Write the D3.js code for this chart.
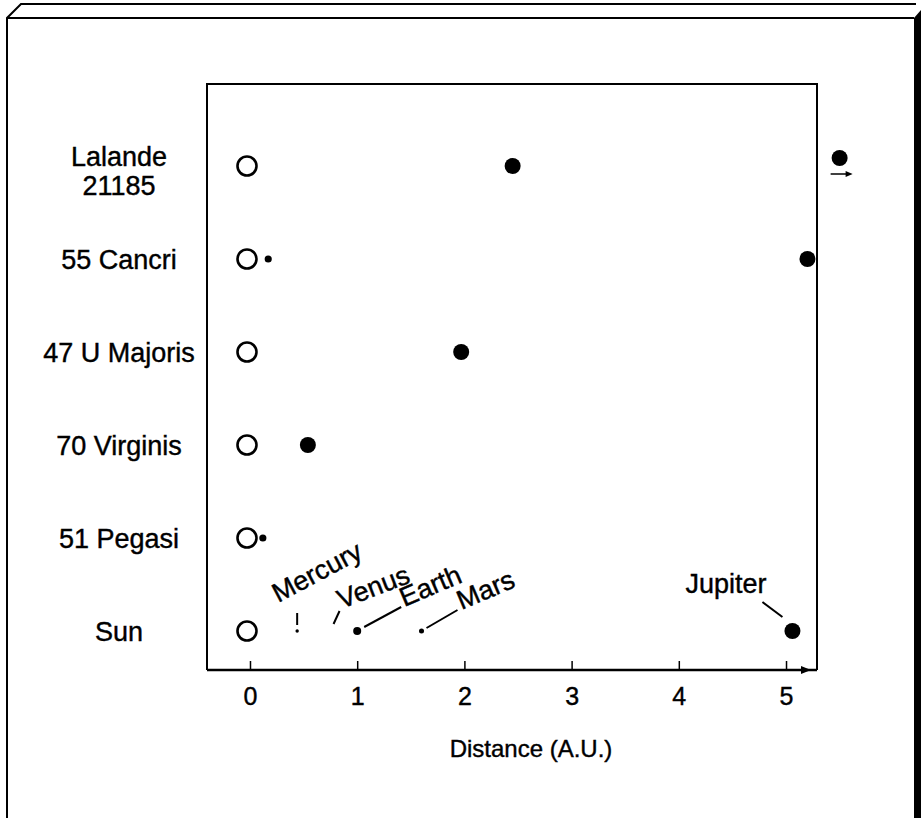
<!DOCTYPE html>
<html>
<head>
<meta charset="utf-8">
<script src="https://cdn.jsdelivr.net/npm/d3@7"></script>
<style>
  body { margin: 0; background: white; }
  svg { display: block; font-family: "Liberation Sans", Arial, Helvetica, sans-serif; }
  svg text { stroke: black; stroke-width: 0.4px; }
</style>
</head>
<body>
<script>
// stars, top to bottom
const stars = ["Lalande 21185", "55 Cancri", "47 U Majoris", "70 Virginis", "51 Pegasi", "Sun"];

// planets (distance, size = relative dot size)
const planetHost = ["Lalande 21185", "Lalande 21185", "55 Cancri", "55 Cancri", "47 U Majoris",
    "70 Virginis", "51 Pegasi", "Sun", "Sun", "Sun", "Sun", "Sun"];
const planetName = ["", "", "", "", "", "", "", "Mercury", "Venus", "Earth", "Mars", "Jupiter"];
const planetAU = [2.45, 5.5, 0.17, 5.2, 1.97, 0.54, 0.12, 0.44, 0.77, 1.0, 1.6, 5.06];
const planetSize = [1, 1, 0.2, 1, 1, 1, 0.2, 0.045, 0, 0.25, 0.1, 1];

const xTicks = [0, 1, 2, 3, 4, 5];
const xLabel = "Distance (A.U.)";

const W = 921, H = 818;
const plot = { left: 207, right: 817, top: 84, bottom: 670 };

const svg = d3.select("body").append("svg")
    .attr("width", W)
    .attr("height", H);

// outer frame (box look)
svg.append("path")
    .attr("d", "M7,818 L7,18 L21,4 L916,4 M7,18 L914,18")
    .attr("fill", "none")
    .attr("stroke", "black")
    .attr("stroke-width", 2);
svg.append("path")
    .attr("d", "M914,18 L921,10 L921,818 L914,818 Z")
    .attr("fill", "black");

let x = d3.scaleLinear()
    .domain([-0.401, 5.289])
    .range([plot.left, plot.right]);

let y = d3.scalePoint()
    .domain(stars)
    .range([166, 631]);

let rScale = d3.scaleSqrt()
    .domain([0, 1])
    .range([0, 8]);

// plot box: left, top, right
svg.append("path")
    .attr("d", `M${plot.left},${plot.bottom} L${plot.left},${plot.top} L${plot.right},${plot.top} L${plot.right},${plot.bottom}`)
    .attr("fill", "none")
    .attr("stroke", "black")
    .attr("stroke-width", 2);

// x axis, ticks pointing up
let axisX = d3.axisBottom(x)
    .tickValues(xTicks)
    .tickFormat(d3.format("d"))
    .tickSize(-9)
    .tickSizeOuter(0)
    .tickPadding(17);

let gAxis = svg.append("g")
    .attr("transform", `translate(0, ${plot.bottom})`)
    .call(axisX);
gAxis.select(".domain").remove();
gAxis.selectAll(".tick line").attr("stroke", "black").attr("stroke-width", 1.5);
gAxis.selectAll(".tick text")
    .attr("fill", "black")
    .style("font-size", "25px")
    .style("font-family", "\"Liberation Sans\", Arial, sans-serif");

svg.append("line")
    .attr("x1", plot.left).attr("x2", plot.right)
    .attr("y1", plot.bottom).attr("y2", plot.bottom)
    .attr("stroke", "black")
    .attr("stroke-width", 2.5);
// arrowhead at the end of the axis
svg.append("path")
    .attr("d", `M${plot.right - 16},${plot.bottom - 4} L${plot.right - 6},${plot.bottom} L${plot.right - 16},${plot.bottom + 4} Z`)
    .attr("fill", "black");

svg.append("text")
    .attr("x", 531)
    .attr("y", 757)
    .attr("text-anchor", "middle")
    .style("font-size", "24px")
    .text(xLabel);

// star names
let gNames = svg.append("g");
stars.forEach(s => {
    let parts = s === "Lalande 21185" ? ["Lalande", "21185"] : [s];
    let t = gNames.append("text")
        .attr("x", 119)
        .attr("y", y(s))
        .attr("text-anchor", "middle")
        .style("font-size", "27px");
    if (parts.length === 1) {
        t.attr("dy", "0.36em").text(s);
    } else {
        t.append("tspan").attr("x", 119).attr("dy", "0.0em").text(parts[0]);
        t.append("tspan").attr("x", 119).attr("dy", "1.08em").text(parts[1]);
    }
});

// stars: open circles at 0
svg.append("g").selectAll("circle")
    .data(stars)
    .enter()
    .append("circle")
    .attr("cx", x(0) - 3)
    .attr("cy", d => y(d))
    .attr("r", 9.5)
    .attr("fill", "white")
    .attr("stroke", "black")
    .attr("stroke-width", 2.6);

// planets
let planets = planetAU.map((au, i) => ({
    host: planetHost[i], name: planetName[i], au: au, size: planetSize[i],
    offScale: au > x.domain()[1]
}));

let gPlanets = svg.append("g");
gPlanets.selectAll("circle")
    .data(planets.filter(p => p.size > 0))
    .enter()
    .append("circle")
    .attr("cx", d => x(d.au))
    .attr("cy", d => y(d.host) + (d.offScale ? -8 : 0))
    .attr("r", d => rScale(d.size))
    .attr("fill", "black");

// arrow for the planet beyond the axis
planets.filter(p => p.offScale).forEach(p => {
    let cx = x(p.au), cy = y(p.host) + 8;
    svg.append("line")
        .attr("x1", cx - 9).attr("x2", cx + 10)
        .attr("y1", cy).attr("y2", cy)
        .attr("stroke", "black").attr("stroke-width", 1.5);
    svg.append("path")
        .attr("d", `M${cx + 6},${cy - 3} L${cx + 13},${cy} L${cx + 6},${cy + 3} Z`)
        .attr("fill", "black");
});

// labels for the solar system planets: leader start/end, text offset, angle
const labelLayout = {
    Mercury: { l: [0, -6, 0, -18], t: [-19, -28], a: -28, anchor: "start" },
    Venus: { l: [1, -7, 7, -20], t: [9, -22], a: -21, anchor: "start" },
    Earth: { l: [7, -4, 44, -24], t: [47, -24], a: -23, anchor: "start" },
    Mars: { l: [5, -3, 36, -21], t: [40, -21], a: -23, anchor: "start" },
    Jupiter: { l: [-10, -14, -30, -29], t: [-26, -38], a: 0, anchor: "end" }
};

planets.filter(p => p.name !== "").forEach(p => {
    let L = labelLayout[p.name];
    let px = x(p.au), py = y(p.host);
    svg.append("line")
        .attr("x1", px + L.l[0]).attr("y1", py + L.l[1])
        .attr("x2", px + L.l[2]).attr("y2", py + L.l[3])
        .attr("stroke", "black")
        .attr("stroke-width", 2);
    svg.append("text")
        .attr("transform", `translate(${px + L.t[0]}, ${py + L.t[1]}) rotate(${L.a})`)
        .attr("text-anchor", L.anchor)
        .style("font-size", "27px")
        .text(p.name);
});
</script>
</body>
</html>
